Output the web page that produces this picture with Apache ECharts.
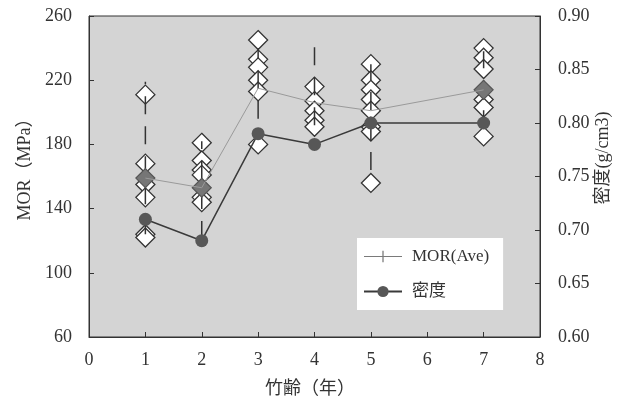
<!DOCTYPE html>
<html>
<head>
<meta charset="utf-8">
<script src="https://cdn.jsdelivr.net/npm/echarts@6/dist/echarts.min.js"></script>
<style>
  html, body { margin: 0; padding: 0; background: #ffffff; }
  #chart { width: 632px; height: 409px; }
</style>
</head>
<body>
<div id="chart"></div>
<script>
// Bamboo age (years) at which samples were taken
const ages = [1, 2, 3, 4, 5, 7];

// Individual MOR test results (MPa) per age
const mor1 = [211, 168, 155, 147, 124, 122];
const mor2 = [181, 170, 164, 161, 147, 144];
const mor3 = [245, 233, 228, 220, 213, 180];
const mor4 = [216, 207, 201, 195, 191];
const mor5 = [230, 220, 214, 208, 201, 191, 188, 156];
const mor7 = [240, 234, 227, 208, 203, 185];

// Shaded samples
const shadedAges = [1, 2, 7];
const shadedMor = [159, 153, 214];

// Average MOR and its spread (MPa)
const morAve = [159, 153, 215, 206, 201, 214];
const morLow = [124, 121, 196, 192, 164, 190];
const morHigh = [219, 182, 240, 247, 230, 238];

// Density (g/cm3)
const density = [0.71, 0.69, 0.79, 0.78, 0.80, 0.80];

// Axis ticks
const xTicks = [0, 1, 2, 3, 4, 5, 6, 7, 8];
const morTicks = [60, 100, 140, 180, 220, 260];
const densityTicks = [0.60, 0.65, 0.70, 0.75, 0.80, 0.85, 0.90];

const serif = "'Liberation Serif', 'DejaVu Serif', 'Noto Sans CJK JP', serif";
const ink = '#333';

const samples = [];
[mor1, mor2, mor3, mor4, mor5, mor7].forEach((vals, i) => {
  vals.forEach(v => samples.push([ages[i], v]));
});

const chart = echarts.init(document.getElementById('chart'), null, { renderer: 'canvas' });

chart.setOption({
  animation: false,
  backgroundColor: '#ffffff',
  grid: {
    left: 89, right: 92, top: 16, bottom: 72,
    show: true,
    backgroundColor: '#d4d4d4',
    borderColor: ink,
    borderWidth: 1
  },
  legend: {
    orient: 'vertical',
    left: 357, top: 238,
    backgroundColor: '#ffffff',
    padding: [10, 14, 10, 6],
    itemGap: 18,
    itemWidth: 38,
    itemHeight: 14,
    textStyle: { fontFamily: serif, fontSize: 17, color: ink, padding: [0, 0, 0, 5] },
    data: [
      { name: 'MOR(Ave)', icon: 'path://M0,9.4H60V10.6H0Z M29,1H31V19H29Z' },
      { name: '密度' }
    ]
  },
  xAxis: {
    type: 'value',
    min: xTicks[0], max: xTicks[xTicks.length - 1], interval: 1,
    axisLine: { show: true, lineStyle: { color: ink, width: 1 } },
    axisTick: { show: true, inside: true, length: 5, lineStyle: { color: ink } },
    axisLabel: { margin: 14, fontFamily: serif, fontSize: 18, color: ink },
    splitLine: { show: false }
  },
  yAxis: [
    {
      type: 'value',
      min: morTicks[0], max: morTicks[morTicks.length - 1], interval: 40,
      axisLine: { show: true, lineStyle: { color: ink, width: 1 } },
      axisTick: { show: true, inside: true, length: 5, lineStyle: { color: ink } },
      axisLabel: { margin: 17, fontFamily: serif, fontSize: 18, color: ink },
      splitLine: { show: false }
    },
    {
      type: 'value',
      position: 'right',
      min: densityTicks[0], max: densityTicks[densityTicks.length - 1], interval: 0.05,
      axisLine: { show: true, lineStyle: { color: ink, width: 1 } },
      axisTick: { show: true, inside: true, length: 5, lineStyle: { color: ink } },
      axisLabel: {
        margin: 18, fontFamily: serif, fontSize: 18, color: ink,
        formatter: v => v.toFixed(2)
      },
      splitLine: { show: false }
    }
  ],
  graphic: [
    {
      type: 'text', x: 25, y: 165, rotation: Math.PI / 2,
      style: { text: 'MOR（MPa）', font: '18px ' + serif, fill: ink, textAlign: 'center', textVerticalAlign: 'middle' }
    },
    {
      type: 'text', x: 603, y: 158, rotation: Math.PI / 2,
      style: { text: '密度(g/cm3)', font: '18px ' + serif, fill: ink, textAlign: 'center', textVerticalAlign: 'middle' }
    },
    {
      type: 'text', x: 310, y: 389,
      style: { text: '竹齢（年）', font: '18px ' + serif, fill: ink, textAlign: 'center', textVerticalAlign: 'middle' }
    }
  ],
  series: [
    {
      name: 'samples',
      type: 'scatter',
      yAxisIndex: 0,
      symbol: 'diamond',
      symbolSize: [19, 19],
      itemStyle: { color: '#ffffff', borderColor: ink, borderWidth: 1.3, opacity: 1 },
      data: samples,
      z: 2
    },
    {
      name: 'range',
      type: 'custom',
      yAxisIndex: 0,
      encode: { x: 0, y: [1, 2] },
      data: ages.map((a, i) => [a, morLow[i], morHigh[i]]),
      renderItem: (params, api) => {
        const p1 = api.coord([api.value(0), api.value(1)]);
        const p2 = api.coord([api.value(0), api.value(2)]);
        return {
          type: 'line',
          shape: { x1: p1[0], y1: p1[1], x2: p2[0], y2: p2[1] },
          style: { stroke: ink, lineWidth: 1.5, lineDash: [18, 12] }
        };
      },
      z: 3
    },
    {
      name: 'shaded',
      type: 'scatter',
      yAxisIndex: 0,
      symbol: 'diamond',
      symbolSize: [19, 19],
      itemStyle: { color: '#767676', borderColor: '#555', borderWidth: 1.2, opacity: 1 },
      data: shadedAges.map((a, i) => [a, shadedMor[i]]),
      z: 4
    },
    {
      name: 'MOR(Ave)',
      type: 'line',
      yAxisIndex: 0,
      symbol: 'none',
      itemStyle: { color: '#7a7a7a' },
      lineStyle: { color: '#9a9a9a', width: 1 },
      data: ages.map((a, i) => [a, morAve[i]]),
      z: 5
    },
    {
      name: '密度',
      type: 'line',
      yAxisIndex: 1,
      symbol: 'circle',
      symbolSize: 13,
      itemStyle: { color: '#575757', borderWidth: 0 },
      lineStyle: { color: '#3a3a3a', width: 1.5 },
      data: ages.map((a, i) => [a, density[i]]),
      z: 6
    }
  ]
});
</script>
</body>
</html>
